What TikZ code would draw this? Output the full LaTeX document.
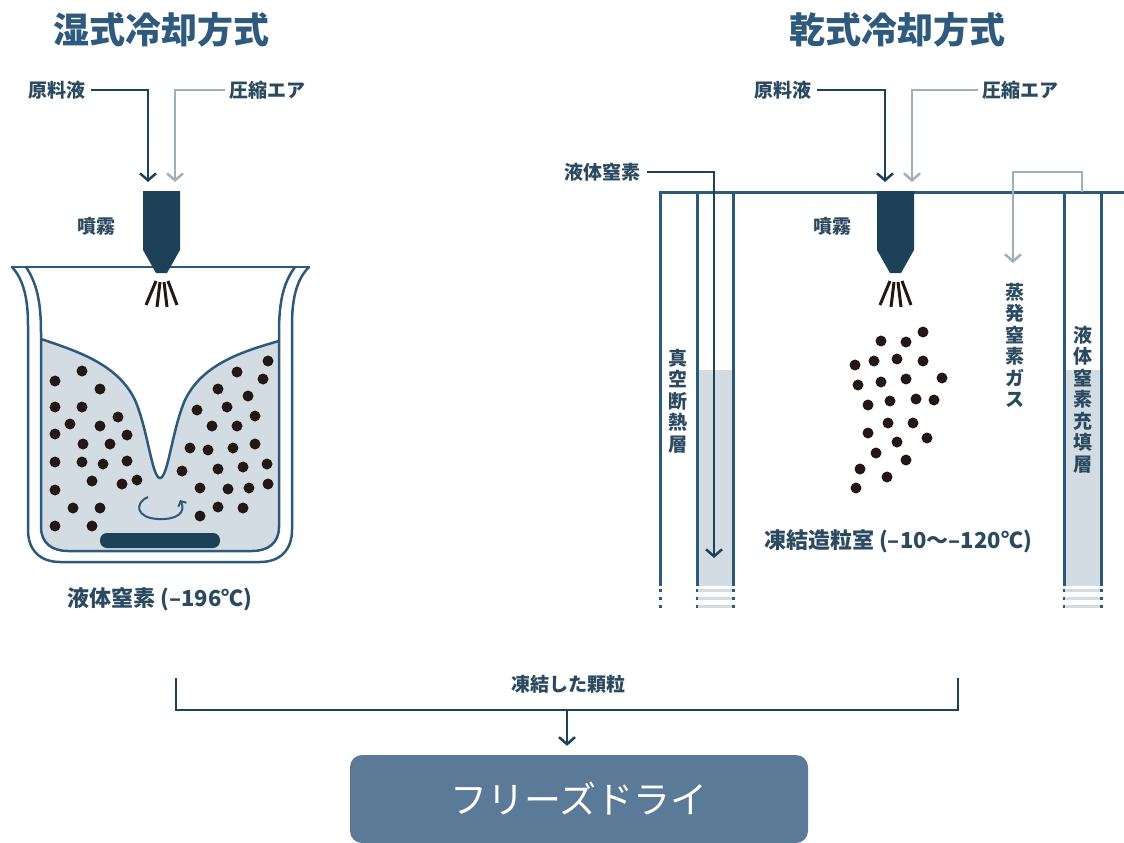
\documentclass[tikz,border=0pt]{standalone}
\usepackage{fontspec}
\setmainfont{Noto Sans CJK JP}
\usetikzlibrary{arrows.meta}
\definecolor{wallblue}{HTML}{2D5A7B}
\definecolor{navy}{HTML}{1D4257}
\definecolor{airgrey}{HTML}{9DB0BC}
\definecolor{liquid}{HTML}{D3DCE2}
\definecolor{grainc}{HTML}{231815}
\definecolor{titleblue}{HTML}{2E5A7D}
\definecolor{labelblue}{HTML}{2B4A60}
\definecolor{boxblue}{HTML}{5A7A98}
\begin{document}
\begin{tikzpicture}[
    x=1pt, y=-1pt,
    wall/.style={draw=wallblue, line width=3pt},
    beaker/.style={draw=wallblue, line width=2.5pt},
    feed/.style={draw=navy, line width=2.5pt,
      -{Straight Barb[length=7pt,width=16pt]}},
    air/.style={draw=airgrey, line width=2.5pt,
      -{Straight Barb[length=7pt,width=16pt]}},
    titel/.style={text=titleblue, inner sep=0pt,
      font=\fontsize{36}{40}\selectfont\bfseries},
    lbl/.style={text=labelblue, inner sep=0pt,
      font=\fontsize{19}{21.5}\selectfont\bfseries},
    vlbl/.style={lbl, align=center},
    caption/.style={lbl, font=\fontsize{22}{26}\selectfont\bfseries},
    particle/.style={fill=grainc},
    spray/.style={draw=grainc, line width=3pt},
    fdbox/.style={fill=boxblue, rounded corners=12pt, text=white,
      minimum width=458pt, minimum height=88pt,
      font=\fontsize{37}{40}\selectfont}
  ]
  \useasboundingbox (0,0) rectangle (1124,843);

  \node (wtitle) [titel] at (161,30) {湿式冷却方式};
  \node (dtitle) [titel] at (897,30) {乾式冷却方式};

  % wet cooling: beaker with liquid nitrogen
  \fill[liquid] (41,339) .. controls (80,352) and (118,365) .. (135,400)
    .. controls (148,430) and (152,478) .. (160,478)
    .. controls (168,478) and (172,430) .. (185,400)
    .. controls (202,365) and (240,352) .. (279,341)
    -- (279,527) .. controls (279,543) and (268,551) .. (252,551)
    -- (68,551) .. controls (52,551) and (41,543) .. (41,527) -- cycle;
  \draw[beaker] (41,339) .. controls (80,352) and (118,365) .. (135,400)
    .. controls (148,430) and (152,478) .. (160,478)
    .. controls (168,478) and (172,430) .. (185,400)
    .. controls (202,365) and (240,352) .. (279,341);
  \foreach \p in {(55,381),(82,371),(100,389),(55,407),(82,407),(118,417),
      (70,424),(100,426),(55,434),(127,435),(83,444),(110,444),(55,462),
      (82,462),(103,464),(127,461),(92,481),(122,484),(137,480),(55,490),
      (73,508),(100,508),(55,526),(92,526),
      (268,361),(237,372),(263,379),(218,389),(248,396),(197,410),(227,407),
      (255,416),(212,426),(237,426),(190,448),(208,450),(233,448),(255,444),
      (182,471),(218,469),(243,467),(267,464),(200,488),(228,489),(249,488),
      (268,484),(218,507),(243,508),(200,516)}
    \fill[particle] \p circle (5.5);
  \draw[draw=wallblue, line width=2pt,
      -{Straight Barb[length=4pt,width=9pt]}]
    (148,497) .. controls (134,503) and (136,518) .. (158,519)
    .. controls (178,520) and (186,512) .. (180,500);
  \fill[navy, rounded corners=7pt] (100,533) rectangle (220,548);
  \draw[beaker] (12,267) .. controls (24,280) and (28,300) .. (28,325)
    -- (28,530) .. controls (28,550) and (40,562) .. (60,562)
    -- (260,562) .. controls (280,562) and (292,550) .. (292,530)
    -- (292,325) .. controls (292,300) and (296,280) .. (309,267);
  \draw[beaker] (26,267) .. controls (36,282) and (41,300) .. (41,332)
    -- (41,527) .. controls (41,543) and (52,551) .. (68,551)
    -- (252,551) .. controls (268,551) and (279,543) .. (279,527)
    -- (279,332) .. controls (279,300) and (284,282) .. (295,267);
  \draw[beaker] (11,267) -- (310,267);

  % dry cooling: chamber walls
  \fill[liquid] (697,370) rectangle (733,586);
  \fill[liquid] (1064,370) rectangle (1101,586);
  \draw[wall] (660,586) -- (660,192) -- (1124,192);
  \foreach \wx in {697,733,1064,1101}
    \draw[wall] (\wx,192) -- (\wx,586);
  \foreach \wx in {660,697,733,1064,1101}
    \draw[wall, dash pattern=on 3pt off 5pt] (\wx,589) -- (\wx,609);
  \foreach \sy in {590.5,598.5,606.5} {
    \draw[liquid, line width=3pt] (698,\sy) -- (732,\sy);
    \draw[liquid, line width=3pt] (1065,\sy) -- (1100,\sy);
  }

  % nozzles
  \foreach \nx in {143,877} {
    \fill[navy] (\nx,191) -- (\nx+37,191) -- (\nx+37,250) -- (\nx+24,273)
      -- (\nx+13,273) -- (\nx,250) -- cycle;
    \draw[spray] (\nx+13,281) -- (\nx+3,305);
    \draw[spray] (\nx+17,282) -- (\nx+14,307);
    \draw[spray] (\nx+21,282) -- (\nx+24,307);
    \draw[spray] (\nx+25,281) -- (\nx+34,305);
  }

  \foreach \p in {(923,332),(881,341),(906,342),(855,365),(874,361),(897,359),
      (923,361),(858,385),(881,382),(906,379),(942,378),(868,405),(890,401),
      (916,399),(934,400),(888,423),(913,423),(868,433),(897,442),(927,438),
      (876,453),(906,460),(860,469),(887,477),(856,488)}
    \fill[particle] \p circle (5.5);

  % labels and feed lines
  \node (wfeed) [lbl, anchor=east] at (86,90) {原料液};
  \node (wair) [lbl, anchor=west] at (229,90) {圧縮エア};
  \node (wspray) [lbl] at (96,226) {噴霧};
  \node (wln2) [caption] at (160,599) {液体窒素 (–196℃)};
  \coordinate (wnozL) at (148,182);
  \coordinate (wnozR) at (175,182);
  \draw[feed, shorten <=5pt] (wfeed.east) -| (wnozL);
  \draw[air, shorten <=4pt] (wair.west) -| (wnozR);

  \node (dfeed) [lbl, anchor=east] at (812,90) {原料液};
  \node (dair) [lbl, anchor=west] at (982,90) {圧縮エア};
  \node (dspray) [lbl] at (832,226) {噴霧};
  \node (dln2) [lbl, anchor=east] at (641,172) {液体窒素};
  \node (dgas) [vlbl, anchor=north] at (1015,283) {蒸\\発\\窒\\素\\ガ\\ス};
  \node (dfill) [vlbl, anchor=north] at (1083,326) {液\\体\\窒\\素\\充\\填\\層};
  \node (dvac) [vlbl, anchor=north] at (678,349) {真\\空\\断\\熱\\層};
  \node (dchamber) [caption] at (898,541) {凍結造粒室 (–10〜–120℃)};
  \coordinate (dnozL) at (885,182);
  \coordinate (dnozR) at (912,182);
  \coordinate (dln2end) at (714,558);
  \coordinate (gasout) at (1082,192);
  \coordinate (gasin) at (1013,263);
  \draw[feed, shorten <=5pt] (dfeed.east) -| (dnozL);
  \draw[air, shorten <=4pt] (dair.west) -| (dnozR);
  \draw[feed, shorten <=6pt] (dln2.east) -| (dln2end);
  \draw[air] (gasout) -- ++(0,-20) -| (gasin);

  % result
  \node (grains) [lbl] at (568,684) {凍結した顆粒};
  \node (fd) [fdbox] at (579,799) {フリーズドライ};
  \coordinate (gl) at (176,678);
  \coordinate (gr) at (958,678);
  \coordinate (gmid) at (567,710);
  \draw[draw=navy, line width=2.5pt] (gl) |- (gmid) -| (gr);
  \draw[feed, shorten >=9pt] (gmid) -- (gmid |- fd.north);
\end{tikzpicture}
\end{document}
